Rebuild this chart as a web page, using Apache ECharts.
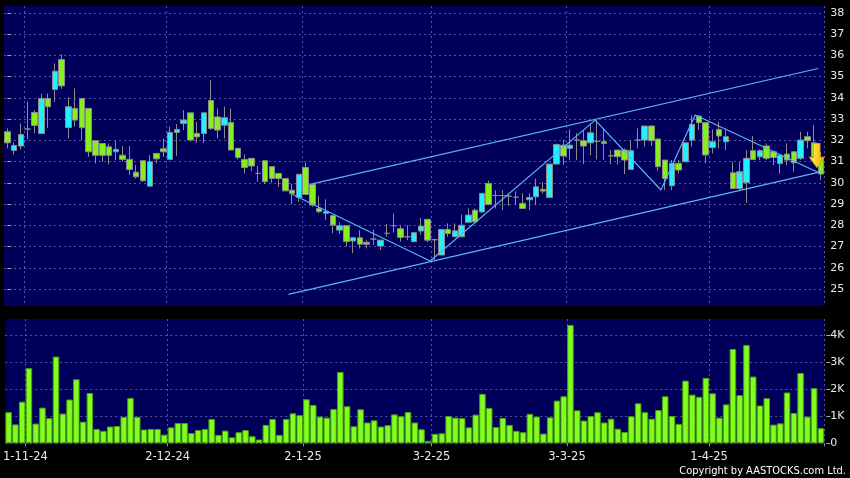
<!DOCTYPE html>
<html>
<head>
<meta charset="utf-8">
<script src="https://cdn.jsdelivr.net/npm/echarts@6/dist/echarts.min.js"></script>
<style>
html,body{margin:0;padding:0;background:#000;}
#chart{width:850px;height:478px;}
</style>
</head>
<body>
<div id="chart"></div>
<script>
// ---- data ----
const opens = [32.40,31.52,31.73,32.53,33.31,32.32,33.97,34.39,35.80,32.60,33.50,33.97,33.50,31.98,31.85,31.69,31.46,31.30,31.10,30.50,
31.04,29.84,31.38,31.60,31.10,32.37,32.79,33.29,32.32,32.32,33.87,33.10,32.71,32.84,31.62,31.10,31.15,30.44,31.04,30.76,
30.44,30.20,29.65,29.31,30.72,29.92,28.79,28.56,28.45,27.77,27.98,27.26,27.41,27.20,27.35,27.02,27.62,27.98,27.84,27.46,
27.23,27.73,28.28,27.32,26.60,27.80,27.46,27.46,28.14,28.71,28.63,29.97,29.40,29.40,29.37,29.32,29.03,29.20,29.34,29.69,
29.31,30.88,31.77,31.62,32.01,31.98,31.88,31.95,31.93,31.27,31.54,31.54,30.63,32.01,32.01,32.67,32.06,31.07,29.86,30.91,
30.99,32.01,33.14,32.83,31.66,32.51,31.93,30.47,29.73,30.00,31.51,31.22,31.73,31.46,30.91,31.35,31.46,31.15,32.17,31.88,31.15];
const closes = [31.88,31.76,32.27,32.53,32.70,33.97,33.58,35.25,34.56,33.58,32.95,32.59,31.46,31.29,31.29,31.29,31.57,31.10,30.63,30.28,
30.09,30.99,31.13,31.46,32.37,32.51,32.95,32.01,32.16,33.29,32.56,32.48,33.06,31.54,31.19,30.72,30.79,30.44,30.05,30.20,
30.20,29.62,29.50,30.40,29.45,28.95,28.64,28.65,28.01,27.98,27.23,27.41,27.11,27.11,27.35,27.30,27.62,27.98,27.43,27.46,
27.65,27.96,27.30,27.32,27.80,27.61,27.74,28.00,28.48,28.16,29.50,28.98,29.40,29.40,29.37,29.32,28.79,29.31,29.81,29.61,
30.88,31.80,31.26,31.77,32.01,31.73,32.35,31.95,31.85,31.27,31.23,31.07,31.51,32.01,32.67,31.98,30.76,30.20,30.91,30.60,
31.88,32.75,32.83,31.31,31.93,32.20,32.17,29.73,30.52,31.15,31.10,31.51,31.15,31.19,31.30,31.07,30.94,32.01,31.98,31.22,30.41];
const lows = [31.62,31.33,31.57,32.04,32.32,32.32,32.59,33.81,34.41,32.09,32.64,32.00,31.22,30.91,30.99,30.86,31.07,30.99,30.36,30.20,
30.05,29.84,30.91,31.22,31.10,31.25,32.48,31.93,31.88,31.88,32.48,32.09,32.09,31.54,31.10,30.44,30.55,30.05,29.94,30.00,
29.81,29.62,29.00,29.11,29.45,28.87,28.56,28.24,27.62,27.59,27.00,26.68,26.91,26.91,27.07,26.83,27.46,27.66,27.23,27.30,
27.23,27.56,27.20,26.35,26.58,27.46,27.46,27.46,28.14,28.12,28.59,28.95,28.80,28.71,28.91,28.95,28.79,28.71,28.95,29.50,
29.31,30.88,30.85,31.07,31.07,30.88,31.30,31.10,31.07,30.88,30.85,30.41,30.60,31.62,31.70,31.73,30.57,29.66,29.66,30.44,
30.99,31.70,32.48,30.91,31.38,31.62,31.54,29.73,29.66,29.06,31.07,31.07,31.07,30.83,30.44,30.83,30.52,31.07,31.62,31.10,30.13];
const highs = [32.56,31.90,32.79,33.81,33.42,34.20,34.20,35.62,36.05,34.02,34.44,33.97,33.50,31.98,31.85,31.85,32.00,31.73,31.73,30.83,
31.04,31.30,31.38,32.09,32.64,32.76,33.42,33.29,32.87,33.29,34.83,33.50,33.58,33.50,31.62,31.33,31.15,30.79,31.04,30.76,
30.44,30.20,29.94,30.40,30.94,29.92,29.37,29.22,28.45,28.13,27.98,27.45,27.77,27.30,27.80,27.30,28.06,28.56,27.98,28.01,
27.65,28.35,28.28,27.36,27.80,28.09,28.09,28.50,28.79,28.79,29.50,30.10,29.65,29.65,29.53,29.60,29.50,29.50,30.20,30.04,
30.88,31.85,32.01,32.51,32.33,32.48,32.72,32.95,32.56,31.54,31.54,31.62,32.01,32.56,32.67,32.71,32.06,31.07,31.07,31.07,
31.88,33.18,33.18,32.83,32.51,32.87,32.56,30.99,30.99,31.54,32.20,31.57,31.85,31.51,31.30,31.85,31.46,32.40,32.40,32.71,31.46];
const volumesK = [1.15,0.70,1.54,2.78,0.73,1.32,0.93,3.21,1.10,1.62,2.37,0.80,1.86,0.53,0.46,0.62,0.64,0.98,1.68,0.98,
0.51,0.53,0.53,0.32,0.59,0.75,0.75,0.38,0.49,0.53,0.90,0.31,0.47,0.22,0.41,0.49,0.26,0.14,0.68,0.90,
0.31,0.90,1.11,1.04,1.63,1.42,0.99,0.95,1.27,2.64,1.37,0.63,1.26,0.77,0.85,0.62,0.67,1.07,1.00,1.16,
0.77,0.52,0.09,0.35,0.37,1.01,0.95,0.93,0.59,1.06,1.83,1.31,0.60,0.94,0.68,0.46,0.41,1.09,0.99,0.36,
0.96,1.58,1.74,4.38,1.22,0.84,1.01,1.15,0.77,0.91,0.54,0.42,1.00,1.48,1.15,0.91,1.23,1.74,1.01,0.72,
2.32,1.80,1.72,2.42,1.85,0.95,1.44,3.49,1.78,3.64,2.47,1.40,1.67,0.69,0.74,1.88,1.12,2.60,0.99,2.04,0.56];
const dateTickIndex = [3, 24, 44, 63, 83, 104];
const dateTickLabels = ['1-11-24', '2-12-24', '2-1-25', '3-2-25', '3-3-25', '1-4-25'];
const priceTicks = [25,26,27,28,29,30,31,32,33,34,35,36,37,38];
const volumeTicks = [0, 1000, 2000, 3000, 4000];
const volumeTickLabels = ['0', '1K', '2K', '3K', '4K'];
// trend lines: [index, price]
const channelUpper = [[44.8, 29.94], [119.6, 35.38]];
const channelLower = [[41.45, 24.75], [119.6, 30.49]];
const zigzag = [[42.0, 29.46], [62.35, 26.32], [86.7, 32.95], [96.4, 29.66], [101.45, 33.19], [119.7, 30.47]];
const signalArrow = [[119.4, 31.28]];

// ---- build ----
const categories = opens.map((_, i) => {
  const k = dateTickIndex.indexOf(i);
  return k >= 0 ? dateTickLabels[k] : '';
});
const candles = opens.map((o, i) => [o, closes[i], lows[i], highs[i]]);
const volumes = volumesK.map(v => v * 1000);
const isTick = (idx) => dateTickIndex.indexOf(idx) >= 0;

const gridLine = { color: '#55559a', type: [2, 3], width: 1 };
const navy = '#00005a';
const labelColor = '#e8e8e8';
const font = '"DejaVu Sans", sans-serif';

const chart = echarts.init(document.getElementById('chart'), null, { renderer: 'canvas' });
const lineStyle = { color: '#5ab4f2', width: 1.2 };

chart.setOption({
  backgroundColor: '#000',
  animation: false,
  title: {
    text: 'Copyright by AASTOCKS.com Ltd.',
    right: 4, bottom: 1, padding: 0,
    textStyle: { color: '#ffffff', fontSize: 11, fontWeight: 'normal', fontFamily: '"DejaVu Sans Condensed", "Liberation Sans", sans-serif' }
  },
  grid: [
    { left: 4, top: 6, width: 820.3, height: 300, show: true, backgroundColor: navy, borderWidth: 0 },
    { left: 4, top: 319, width: 820.3, height: 124.3, show: true, backgroundColor: navy, borderWidth: 0 }
  ],
  xAxis: [
    { type: 'category', gridIndex: 0, data: categories, boundaryGap: true,
      axisLine: { show: false }, axisTick: { show: false }, axisLabel: { show: false },
      splitLine: { show: true, interval: isTick, lineStyle: gridLine } },
    { type: 'category', gridIndex: 1, data: categories, boundaryGap: true,
      axisLine: { show: false },
      axisTick: { show: true, interval: isTick, length: 3, lineStyle: { color: '#999' } },
      axisLabel: { interval: isTick, color: labelColor, fontSize: 11.5, fontFamily: font, margin: 8, padding: [0, 7, 0, 0] },
      splitLine: { show: true, interval: isTick, lineStyle: gridLine } },
    { type: 'value', gridIndex: 0, min: -0.5, max: opens.length - 0.5, show: false }
  ],
  yAxis: [
    { type: 'value', gridIndex: 0, position: 'right', min: 24.2, max: 38.32, offset: 2,
      axisLine: { show: false },
      axisTick: { show: true, length: 4, customValues: priceTicks, lineStyle: { color: '#aaa' } },
      axisLabel: { color: labelColor, fontSize: 11, fontFamily: font, margin: 4, customValues: priceTicks },
      splitLine: { show: true, lineStyle: gridLine } },
    { type: 'value', gridIndex: 1, position: 'right', min: 0, max: 4600, offset: 2,
      axisLine: { show: false },
      axisTick: { show: true, length: 4, customValues: volumeTicks, lineStyle: { color: '#aaa' } },
      axisLabel: { color: labelColor, fontSize: 11, fontFamily: font, margin: 4, customValues: volumeTicks,
        formatter: v => volumeTickLabels[volumeTicks.indexOf(v)] || '' },
      splitLine: { show: true, lineStyle: gridLine } }
  ],
  series: [
    { type: 'candlestick', xAxisIndex: 0, yAxisIndex: 0, data: candles, barWidth: 6,
      itemStyle: { color: '#22f0ff', color0: '#84f01c', borderColor: '#8c8c8c', borderColor0: '#8c8c8c', borderWidth: 1 } },
    { type: 'bar', xAxisIndex: 1, yAxisIndex: 1, data: volumes, barWidth: 6.5,
      itemStyle: { color: '#80ff1e', borderColor: '#4f9e12', borderWidth: 1 } },
    { type: 'line', xAxisIndex: 2, yAxisIndex: 0, data: channelUpper, symbol: 'none', lineStyle: lineStyle, z: 5 },
    { type: 'line', xAxisIndex: 2, yAxisIndex: 0, data: channelLower, symbol: 'none', lineStyle: lineStyle, z: 5 },
    { type: 'line', xAxisIndex: 2, yAxisIndex: 0, data: zigzag, symbol: 'none', lineStyle: lineStyle, z: 5 },
    { type: 'scatter', xAxisIndex: 2, yAxisIndex: 0, data: signalArrow, z: 6,
      symbol: 'path://M4,0 L10,0 L10,13 L14,13 L7,23 L0,13 L4,13 Z', symbolSize: [15, 24],
      itemStyle: { opacity: 1, color: new echarts.graphic.LinearGradient(0, 0, 1, 0, [
        { offset: 0, color: '#fff07a' }, { offset: 0.5, color: '#ffd21f' }, { offset: 1, color: '#f2a900' }]),
        borderColor: '#e0a000', borderWidth: 0.8 } }
  ]
});
</script>
</body>
</html>
